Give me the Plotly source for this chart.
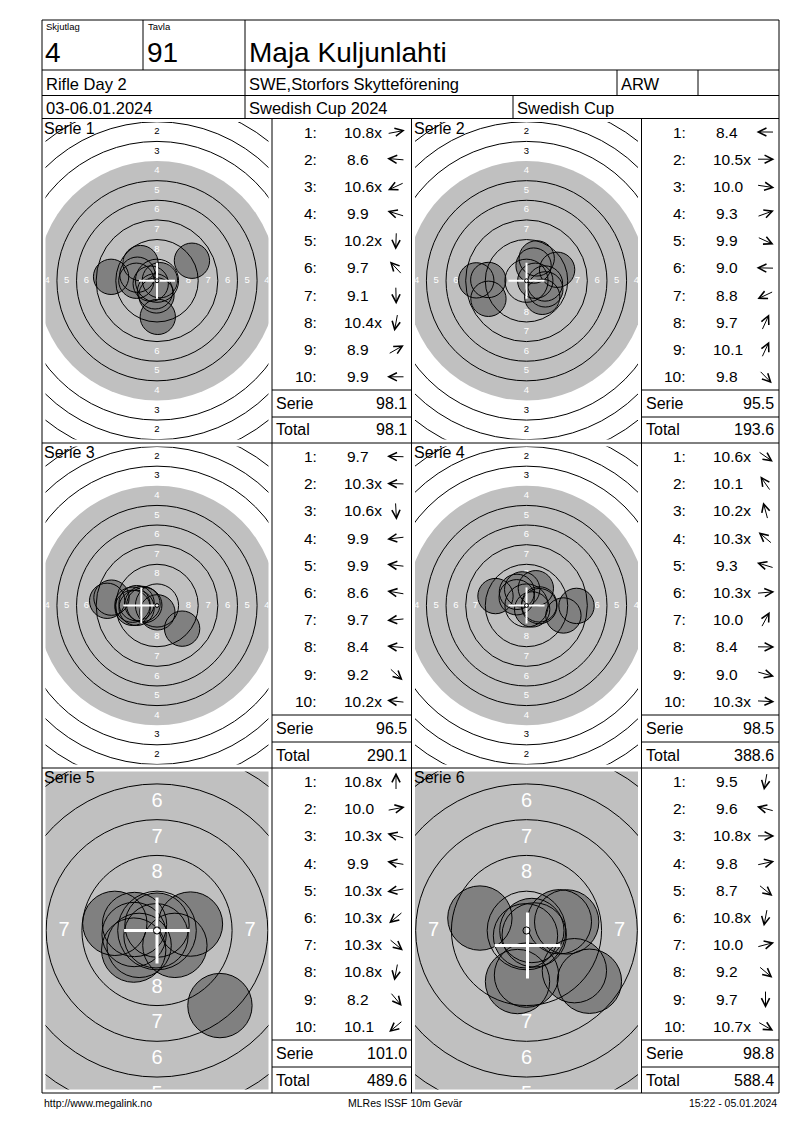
import math
import plotly.graph_objects as go

# ---------------- Daten ----------------
skjutlag = "4"
tavla = "91"
namn = "Maja Kuljunlahti"
tavling = "Rifle Day 2"
klubb = "SWE,Storfors Skytteförening"
klass = "ARW"
datum = "03-06.01.2024"
cup = "Swedish Cup 2024"
cup_kort = "Swedish Cup"

fot_vanster = "http://www.megalink.no"
fot_mitt = "MLRes ISSF 10m Gevär"
fot_hoger = "15:22 - 05.01.2024"

serie_namn = ["Serie 1", "Serie 2", "Serie 3", "Serie 4", "Serie 5", "Serie 6"]

# Poäng per skott
poang_1 = ["10.8x", "8.6", "10.6x", "9.9", "10.2x", "9.7", "9.1", "10.4x", "8.9", "9.9"]
poang_2 = ["8.4", "10.5x", "10.0", "9.3", "9.9", "9.0", "8.8", "9.7", "10.1", "9.8"]
poang_3 = ["9.7", "10.3x", "10.6x", "9.9", "9.9", "8.6", "9.7", "8.4", "9.2", "10.2x"]
poang_4 = ["10.6x", "10.1", "10.2x", "10.3x", "9.3", "10.3x", "10.0", "8.4", "9.0", "10.3x"]
poang_5 = ["10.8x", "10.0", "10.3x", "9.9", "10.3x", "10.3x", "10.3x", "10.8x", "8.2", "10.1"]
poang_6 = ["9.5", "9.6", "10.8x", "9.8", "8.7", "10.8x", "10.0", "9.2", "9.7", "10.7x"]

# Träffpunkter i mm (x höger, y upp)
x_1 = [0.37, -5.85, -0.80, -2.50, -0.07, -2.10, 0.10, -0.25, 4.45, -2.63]
y_1 = [0.07, 0.50, -0.37, 0.77, -1.87, 2.25, -4.60, -1.35, 2.55, 0.00]
x_2 = [-6.40, 1.12, 2.35, 3.90, 2.40, -4.87, -4.85, 1.30, 0.90, 2.00]
y_2 = [0.05, 0.00, -0.35, 1.40, -1.10, 0.10, -2.30, 2.85, 1.93, -2.05]
x_3 = [-3.12, -1.62, 0.05, -2.60, -2.60, -5.80, -3.10, -6.35, 3.20, -1.85]
y_3 = [0.10, 0.05, -0.87, -0.30, 0.30, 1.00, -0.30, 0.60, -2.95, 0.20]
x_4 = [0.72, -1.22, -0.55, -1.25, -3.95, 1.62, 1.19, 6.37, 4.70, 1.62]
y_4 = [-0.50, 1.74, 2.05, 1.05, 1.20, 0.14, 2.20, -0.05, -1.27, -0.08]
x_5 = [0.00, 2.34, -1.57, -2.95, -1.60, -1.25, 1.25, -0.07, 4.40, -1.63]
y_5 = [0.375, 0.45, 0.42, 0.50, -0.28, -1.04, -1.04, -0.37, -5.25, -1.37]
x_6 = [-0.63, -3.26, 0.375, 2.81, 4.40, -0.07, 2.30, 3.35, 0.00, 0.54]
y_6 = [-3.57, 0.87, 0.00, 0.60, -3.55, -0.37, 0.61, -2.81, -3.12, -0.31]

serie_summa = ["98.1", "95.5", "96.5", "98.5", "101.0", "98.8"]
total_summa = ["98.1", "193.6", "290.1", "388.6", "489.6", "588.4"]

# Medelträffpunkt (vitt kors)
mpi_x = [0.0, 0.0, -2.0, 0.0, 0.0, 0.07]
mpi_y = [0.0, 0.0, 0.0, 0.0, 0.0, -1.05]

# ISSF 10m gevärstavla (mm)
ringnummer = [1, 2, 3, 4, 5, 6, 7, 8]
ring_radie = [22.75, 20.25, 17.75, 15.25, 12.75, 10.25, 7.75, 5.25, 2.75]
tia_radie = 0.25
svart_radie = 15.25
kula_radie = 2.25

serier = [(poang_1, x_1, y_1), (poang_2, x_2, y_2), (poang_3, x_3, y_3),
          (poang_4, x_4, y_4), (poang_5, x_5, y_5), (poang_6, x_6, y_6)]

# ---------------- Layout ----------------
W, H = 800, 1130
FONT = "Liberation Sans, Arial, sans-serif"


def px(x):
    return x / W


def py(y):
    return 1 - y / H


rad_topp = [118.5, 443, 768]
rad_botten = [443, 768, 1093]
kol_tavla = [(42, 272), (411.5, 641.5)]
kol_tabell = [(272, 411.5), (641.5, 779)]
skala = [7.85, 7.85, 7.85, 7.85, 14.3, 14.3]
etikett_storlek = [9.5, 9.5, 9.5, 9.5, 20, 20]
kors_bredd = [2, 2, 2, 2, 3, 3]

fig = go.Figure()
shapes = []
annotations = []


def linje(x0, y0, x1, y1):
    shapes.append(dict(type="line", xref="paper", yref="paper",
                       x0=px(x0), y0=py(y0), x1=px(x1), y1=py(y1),
                       line=dict(color="black", width=1)))


def text(t, x, y, size, anchor="left", color="black"):
    annotations.append(dict(text=t, x=px(x), y=py(y), xref="paper", yref="paper",
                            xanchor=anchor, yanchor="middle", showarrow=False,
                            font=dict(family=FONT, size=size, color=color)))


# Rubrik
linje(42, 20, 779, 20)
linje(42, 70, 779, 70)
linje(42, 95.5, 779, 95.5)
linje(42, 118.5, 779, 118.5)
linje(143, 20, 143, 70)
linje(245, 20, 245, 118.5)
linje(617, 70, 617, 95.5)
linje(698, 70, 698, 95.5)
linje(513, 95.5, 513, 118.5)
linje(42, 20, 42, 1093)
linje(779, 20, 779, 1093)
linje(42, 1093, 779, 1093)
linje(42, 443, 779, 443)
linje(42, 768, 779, 768)
for xv in [272, 411.5, 641.5]:
    linje(xv, 118.5, xv, 1093)
for b in rad_botten:
    for (t0, t1) in kol_tabell:
        linje(t0, b - 53, t1, b - 53)
        linje(t0, b - 26, t1, b - 26)

text("Skjutlag", 44, 27, 9.5)
text("Tavla", 146, 27, 9.5)
text(skjutlag, 43, 52, 28)
text(tavla, 145, 52, 28)
text(namn, 247, 52, 28)
text(tavling, 44, 84, 16.5)
text(klubb, 247, 84, 16.5)
text(klass, 619, 84, 16.5)
text(datum, 44, 108, 16.5)
text(cup, 247, 108, 16.5)
text(cup_kort, 515, 108, 16.5)

text(fot_vanster, 42, 1102.5, 10.5)
text(fot_mitt, 406, 1102.5, 10.5, anchor="center")
text(fot_hoger, 779, 1102.5, 10.5, anchor="right")

for i, (poang, xs, ys) in enumerate(serier):
    rad = i // 2
    kol = i % 2
    topp, botten = rad_topp[rad], rad_botten[rad]
    tx0, tx1 = kol_tavla[kol]
    bx0, bx1 = kol_tabell[kol]
    k = i + 1
    xa = "xaxis" if k == 1 else "xaxis%d" % k
    ya = "yaxis" if k == 1 else "yaxis%d" % k
    xr = "x" if k == 1 else "x%d" % k
    yr = "y" if k == 1 else "y%d" % k
    s = skala[i]

    d0, d1 = tx0 + 3.5, tx1 - 3.5
    e0, e1 = topp + 3.5, botten - 3.5
    hw = (d1 - d0) / 2 / s
    hh = (e1 - e0) / 2 / s
    fig.update_layout(**{
        xa: dict(domain=[px(d0), px(d1)], range=[-hw, hw], visible=False, fixedrange=True),
        ya: dict(domain=[py(e1), py(e0)], range=[-hh, hh], visible=False, fixedrange=True),
    })

    # svart (grå) spegel
    shapes.append(dict(type="circle", xref=xr, yref=yr, layer="below",
                       x0=-svart_radie, y0=-svart_radie, x1=svart_radie, y1=svart_radie,
                       fillcolor="#c0c0c0", line=dict(width=0)))

    # ringsiffror (bara de som syns i rutan)
    lx, ly, lt, lc = [], [], [], []
    for n in ringnummer:
        r = (ring_radie[n - 1] + ring_radie[n]) / 2
        farg = "white" if ring_radie[n - 1] <= svart_radie else "black"
        for (a, b) in [(0, r), (0, -r), (r, 0), (-r, 0)]:
            if abs(a) > hw + 0.45 or abs(b) > hh + 0.45:
                continue
            lx.append(a)
            ly.append(b)
            lt.append(str(n))
            lc.append(farg)
    fig.add_trace(go.Scatter(x=lx, y=ly, text=lt, mode="text", xaxis=xr, yaxis=yr,
                             textfont=dict(family=FONT, size=etikett_storlek[i], color=lc),
                             cliponaxis=True, hoverinfo="skip", showlegend=False))

    # träffar
    for xv, yv in zip(xs, ys):
        shapes.append(dict(type="circle", xref=xr, yref=yr, layer="above",
                           x0=xv - kula_radie, y0=yv - kula_radie,
                           x1=xv + kula_radie, y1=yv + kula_radie,
                           fillcolor="#808080", line=dict(width=0)))
    for xv, yv in zip(xs, ys):
        shapes.append(dict(type="circle", xref=xr, yref=yr, layer="above",
                           x0=xv - kula_radie, y0=yv - kula_radie,
                           x1=xv + kula_radie, y1=yv + kula_radie,
                           fillcolor="rgba(0,0,0,0)", line=dict(color="black", width=1)))

    # ringar (ingen linje vid speglens kant)
    for r in ring_radie:
        if r == svart_radie:
            continue
        shapes.append(dict(type="circle", xref=xr, yref=yr, layer="above",
                           x0=-r, y0=-r, x1=r, y1=r,
                           line=dict(color="black", width=1)))

    # kors
    ks = 2.3
    shapes.append(dict(type="line", xref=xr, yref=yr, layer="above",
                       x0=mpi_x[i] - ks, y0=mpi_y[i], x1=mpi_x[i] + ks, y1=mpi_y[i],
                       line=dict(color="white", width=kors_bredd[i])))
    shapes.append(dict(type="line", xref=xr, yref=yr, layer="above",
                       x0=mpi_x[i], y0=mpi_y[i] - ks, x1=mpi_x[i], y1=mpi_y[i] + ks,
                       line=dict(color="white", width=kors_bredd[i])))
    shapes.append(dict(type="circle", xref=xr, yref=yr, layer="above",
                       x0=-tia_radie, y0=-tia_radie, x1=tia_radie, y1=tia_radie,
                       line=dict(color="black", width=1)))

    text(serie_namn[i], tx0, topp + 9.5, 16)

    # tabell
    for j, p in enumerate(poang):
        cy = topp + 13.5 + j * 27.2
        text("%d:" % (j + 1), bx0 + 46.5, cy, 15.5, anchor="right")
        off = 0 if float(p.rstrip("x")) >= 10 else 3
        text(p, bx0 + 69.5 + off, cy, 15.5)
        v = math.atan2(ys[j], xs[j])
        L = 18
        cx = bx0 + 124
        hx = cx + L / 2 * math.cos(v)
        hy = cy - L / 2 * math.sin(v)
        annotations.append(dict(text="", x=px(hx), y=py(hy), xref="paper", yref="paper",
                                ax=-L * math.cos(v), ay=L * math.sin(v),
                                showarrow=True, arrowhead=5, arrowsize=1.6,
                                arrowwidth=1, arrowcolor="black", standoff=0,
                                startstandoff=0))
    text("Serie", bx0 + 2, botten - 39.5, 16)
    text(serie_summa[i], bx1 - 3, botten - 39.5, 16, anchor="right")
    text("Total", bx0 + 2, botten - 13, 16)
    text(total_summa[i], bx1 - 3, botten - 13, 16, anchor="right")

fig.update_layout(width=W, height=H, margin=dict(l=0, r=0, t=0, b=0),
                  paper_bgcolor="white", plot_bgcolor="white",
                  shapes=shapes, annotations=annotations, showlegend=False)

fig.write_html("out.html", config={"displayModeBar": False},
               post_script="document.body.style.margin='0';document.body.style.overflow='hidden';")
